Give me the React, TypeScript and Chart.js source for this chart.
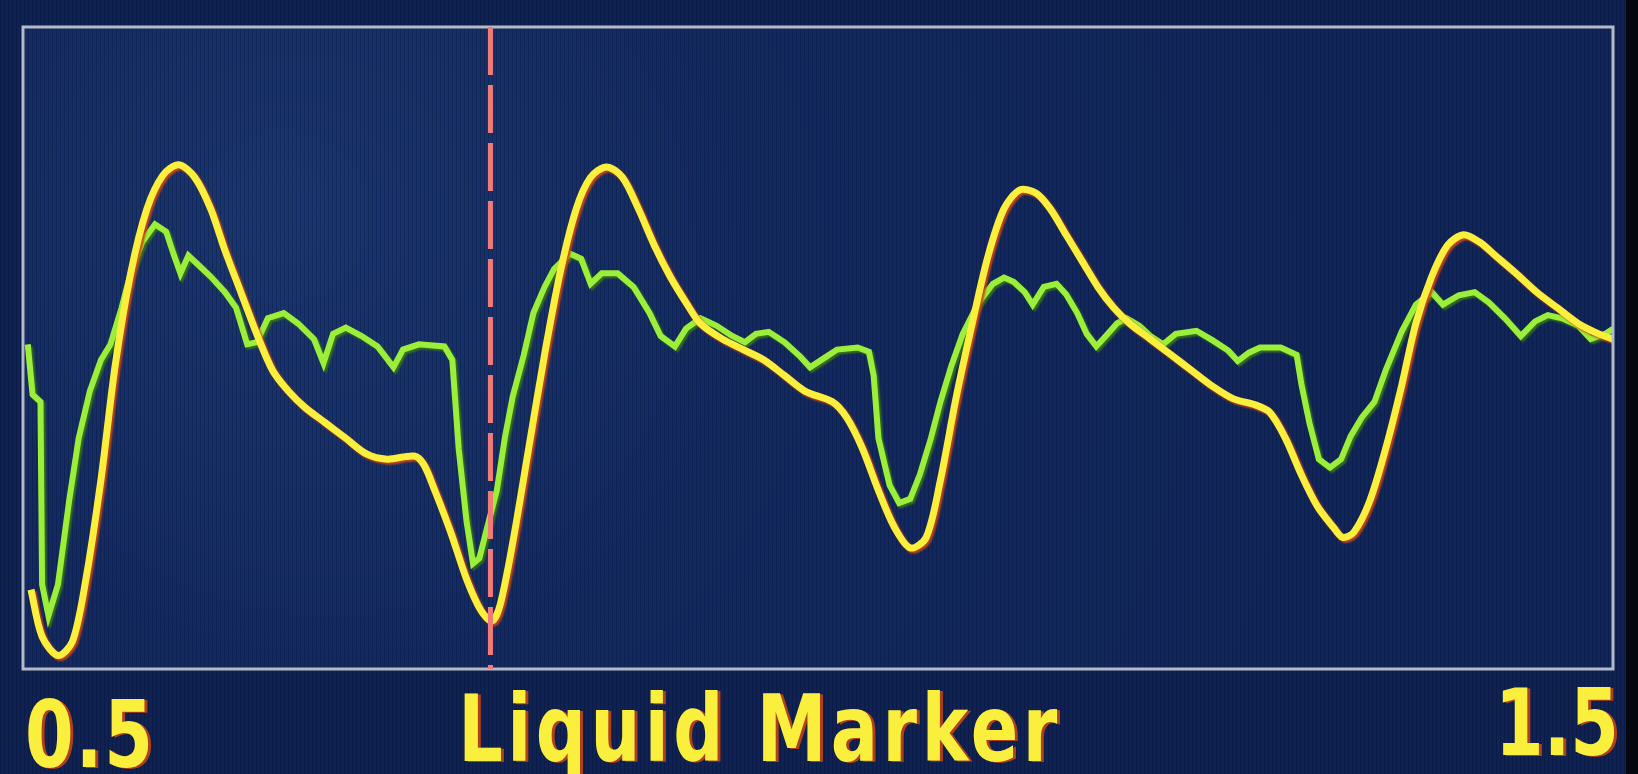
import { useEffect, useRef } from 'react';
import { Chart, registerables } from 'chart.js';

Chart.register(...registerables);

// Time axis in milliseconds (display shows seconds 0.5 … 1.5)
const xMin = 500;
const xMax = 1500;
const yMin = 0;
const yMax = 615;

const xTickLabels = ['0.5', '1.5'];
const axisTitle = 'Liquid Marker';
const markerTime = 794;

// Yellow trace
const yellowTime = [
  505, 512, 522, 531, 539, 549, 558, 568, 578, 588, 598, 608, 618, 627, 637, 647, 657, 667, 677, 690,
  703, 716, 729, 746, 752, 759, 769, 779, 788, 795, 800, 808, 818, 828, 838, 848, 857, 867, 877, 887,
  897, 907, 917, 926, 940, 953, 966, 979, 992, 1009, 1018, 1028, 1038, 1048, 1058, 1068, 1077, 1087, 1097, 1107,
  1117, 1127, 1137, 1146, 1156, 1166, 1176, 1186, 1196, 1209, 1222, 1235, 1248, 1261, 1275, 1284, 1294, 1304, 1314, 1324,
  1330, 1337, 1347, 1357, 1367, 1376, 1386, 1396, 1406, 1416, 1426, 1439, 1452, 1465, 1478, 1491, 1500,
];
const yellowLevel = [
  76, 31, 13, 26, 81, 181, 291, 381, 441, 473, 483, 471, 441, 401, 361, 321, 286, 266, 251, 236,
  221, 206, 201, 204, 196, 171, 131, 86, 56, 46, 61, 121, 211, 301, 381, 441, 471, 481, 471, 441,
  406, 376, 351, 331, 316, 306, 296, 281, 266, 256, 241, 211, 171, 136, 116, 126, 181, 261, 331, 396,
  441, 459, 456, 441, 416, 391, 366, 346, 331, 316, 301, 286, 271, 259, 253, 246, 221, 186, 156, 136,
  126, 131, 161, 211, 271, 331, 376, 406, 416, 409, 396, 379, 361, 346, 331, 321, 316,
];

// Green trace
const greenTime = [
  503, 506, 511, 512, 516, 522, 529, 535, 542, 549, 555, 562, 568, 575, 583, 590, 595, 599, 604, 611,
  618, 627, 634, 641, 647, 654, 664, 673, 683, 689, 695, 703, 713, 723, 733, 739, 749, 765, 770, 774,
  779, 783, 787, 792, 798, 803, 808, 815, 821, 828, 834, 844, 851, 857, 864, 874, 884, 894, 901, 910,
  917, 926, 936, 946, 954, 961, 969, 979, 989, 995, 1005, 1012, 1025, 1032, 1035, 1038, 1045, 1051, 1058, 1064,
  1071, 1077, 1084, 1091, 1101, 1110, 1117, 1123, 1130, 1135, 1142, 1150, 1156, 1163, 1169, 1175, 1181, 1188, 1194, 1202,
  1209, 1217, 1225, 1238, 1248, 1258, 1264, 1271, 1278, 1291, 1301, 1304, 1309, 1315, 1322, 1329, 1335, 1342, 1350, 1357,
  1367, 1376, 1386, 1393, 1403, 1413, 1422, 1432, 1442, 1451, 1459, 1468, 1478, 1486, 1495, 1500,
];
const greenLevel = [
  311, 263, 256, 81, 51, 81, 161, 221, 266, 296, 311, 346, 381, 409, 426, 419, 396, 379, 396, 386,
  376, 361, 346, 311, 313, 336, 341, 331, 316, 293, 321, 327, 319, 309, 289, 306, 311, 309, 296, 211,
  141, 101, 106, 136, 171, 221, 261, 301, 341, 366, 383, 398, 393, 369, 379, 379, 366, 341, 319, 309,
  326, 336, 329, 319, 313, 321, 323, 313, 299, 289, 299, 306, 308, 304, 281, 221, 176, 159, 163, 186,
  221, 256, 291, 321, 351, 369, 375, 371, 361, 349, 366, 369, 359, 341, 321, 309, 319, 331, 336, 329,
  319, 311, 321, 324, 315, 305, 295, 303, 308, 308, 301, 273, 236, 201, 193, 201, 223, 241, 256, 286,
  323, 349, 361, 349, 358, 361, 351, 336, 319, 333, 339, 336, 329, 316, 321, 326,
];

const YELLOW = '#fbef3e';
const GREEN = '#9bef3a';
const MARKER = '#f27a78';
const FRAME = '#b3bac9';

export default function App() {
  const canvasRef = useRef<HTMLCanvasElement | null>(null);

  useEffect(() => {
    document.body.style.margin = '0';
    document.body.style.background = '#0d2152';
    const canvas = canvasRef.current;
    if (!canvas) return;

    const backgroundPlugin = {
      id: 'scopeBackground',
      beforeDraw(chart: any) {
        const { ctx, width, height, chartArea } = chart;
        ctx.save();
        ctx.fillStyle = '#0e2253';
        ctx.fillRect(0, 0, width, height);
        const g = ctx.createRadialGradient(
          chartArea.left + 250, chartArea.top + 180, 20,
          chartArea.left + 400, chartArea.top + 300, 900
        );
        g.addColorStop(0, '#1a366f');
        g.addColorStop(0.45, '#122a61');
        g.addColorStop(1, '#10265b');
        ctx.fillStyle = g;
        ctx.fillRect(chartArea.left, chartArea.top, chartArea.right - chartArea.left, chartArea.bottom - chartArea.top);
        // faint scan stripes
        ctx.fillStyle = 'rgba(0,0,20,0.2)';
        for (let x = 0; x < width; x += 4) {
          ctx.fillRect(x, 0, 1, height);
        }
        // dark bezel on the right
        ctx.fillStyle = '#05070e';
        ctx.fillRect(width - 12, 0, 12, height);
        ctx.restore();
      },
      beforeDatasetDraw(chart: any, args: any) {
        const ctx = chart.ctx;
        ctx.save();
        if (args.index === 0) {
          ctx.shadowColor = 'rgba(200,70,20,0.95)';
        } else {
          ctx.shadowColor = 'rgba(60,120,20,0.9)';
        }
        ctx.shadowOffsetX = 2;
        ctx.shadowOffsetY = 2;
        ctx.shadowBlur = 2;
      },
      afterDatasetDraw(chart: any) {
        chart.ctx.restore();
      },
      afterDatasetsDraw(chart: any) {
        const { ctx, chartArea, scales } = chart;
        // frame
        ctx.save();
        ctx.strokeStyle = FRAME;
        ctx.lineWidth = 3;
        ctx.strokeRect(chartArea.left, chartArea.top, chartArea.right - chartArea.left, chartArea.bottom - chartArea.top);
        // dashed marker
        const mx = scales.x.getPixelForValue(markerTime);
        ctx.strokeStyle = MARKER;
        ctx.lineWidth = 5;
        ctx.setLineDash([48, 10]);
        ctx.beginPath();
        ctx.moveTo(mx, chartArea.top);
        ctx.lineTo(mx, chartArea.bottom);
        ctx.stroke();
        ctx.setLineDash([]);

        // labels
        const drawText = (text: string, x: number, baseline: number, align: CanvasTextAlign, spacing: number) => {
          ctx.save();
          ctx.translate(x, baseline);
          ctx.scale(1, 1.32);
          ctx.font = 'bold 70px "DejaVu Sans", sans-serif';
          (ctx as any).letterSpacing = spacing + 'px';
          ctx.textAlign = align;
          ctx.textBaseline = 'alphabetic';
          ctx.fillStyle = '#b0401a';
          ctx.fillText(text, 3, 1);
          ctx.fillStyle = YELLOW;
          ctx.fillText(text, 0, 0);
          ctx.restore();
        };
        drawText(xTickLabels[0], scales.x.getPixelForValue(xMin) + 2, 767, 'left', 2);
        drawText(xTickLabels[1], scales.x.getPixelForValue(xMax) + 6, 755, 'right', 0);
        drawText(axisTitle, 760, 761, 'center', 4.5);
        ctx.restore();
      },
    };

    const chart = new Chart(canvas, {
      type: 'line',
      data: {
        datasets: [
          {
            label: 'Yellow',
            data: yellowTime.map((t, i) => ({ x: t, y: yellowLevel[i] })),
            borderColor: YELLOW,
            borderWidth: 7,
            pointRadius: 0,
            tension: 0.3,
            fill: false,
          },
          {
            label: 'Green',
            data: greenTime.map((t, i) => ({ x: t, y: greenLevel[i] })),
            borderColor: GREEN,
            borderWidth: 6,
            pointRadius: 0,
            tension: 0,
            fill: false,
          },
        ],
      },
      options: {
        animation: false,
        responsive: false,
        maintainAspectRatio: false,
        layout: { padding: { left: 23, right: 25, top: 27, bottom: 105 } },
        plugins: {
          legend: { display: false },
          tooltip: { enabled: false },
          title: { display: false },
        },
        scales: {
          x: { type: 'linear', min: xMin, max: xMax, display: false },
          y: { type: 'linear', min: yMin, max: yMax, display: false },
        },
      },
      plugins: [backgroundPlugin],
    });

    return () => chart.destroy();
  }, []);

  return (
    <div style={{ position: 'fixed', left: 0, top: 0, width: 1638, height: 774 }}>
      <canvas ref={canvasRef} width={1638} height={774} style={{ width: 1638, height: 774, display: 'block' }} />
    </div>
  );
}
